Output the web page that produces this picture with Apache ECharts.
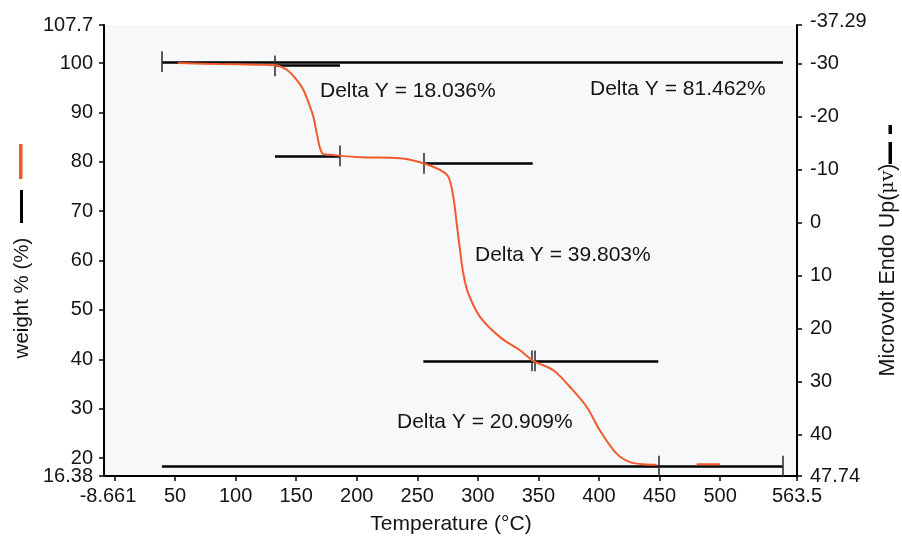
<!DOCTYPE html>
<html>
<head>
<meta charset="utf-8">
<title>TGA</title>
<script src="https://cdn.jsdelivr.net/npm/echarts@6/dist/echarts.min.js"></script>
<style>
	html,body{margin:0;padding:0;background:#fff;}
	#chart{width:902px;height:537px;}
</style>
</head>
<body>
<div id="chart"></div>
<script>
	//TGA curve
	var tgaTemp = [52.4, 87.1, 116.0, 132.5, 142.2, 150.4, 155.9, 161.4, 164.1, 167.0, 169.7, 172.4, 176.0, 180.7, 186.2, 202.7, 235.7, 255.0, 268.8, 275.6, 279.7, 282.5, 285.3, 288.0, 292.1, 301.8, 318.3, 334.8, 345.8, 362.3, 376.1, 389.9, 400.8, 414.6, 425.6, 439.4, 447.7, 465.0, 480.7, 500.0];
	var tgaWeight = [100.0, 99.8, 99.66, 99.55, 98.64, 96.6, 94.6, 91.2, 89.2, 85.8, 82.76, 81.55, 81.45, 81.4, 81.2, 80.93, 80.73, 79.72, 78.36, 77.0, 72.94, 67.55, 62.13, 57.4, 53.35, 48.6, 44.5, 41.85, 39.7, 37.8, 34.4, 30.34, 25.6, 20.9, 19.2, 18.72, 18.66, null, 18.76, 18.76];

	//Delta Y step lines
	var segFrom = [39.2, 132.5, 132.5, 255.0, 255.0, 39.2];
	var segTo = [551.9, 186.2, 186.2, 345.3, 449.0, 551.9];
	var segLevel = [100.2, 99.5, 81.2, 79.7, 39.7, 18.4];

	//vertical markers on the step lines
	var markTemp = [39.2, 132.5, 186.2, 255.0, 344.4, 347.1, 449.0, 551.9];
	var markLevel = [100.3, 99.4, 81.2, 79.7, 39.7, 39.7, 18.4, 18.4];

	var deltaText = ['Delta Y = 18.036%', 'Delta Y = 81.462%', 'Delta Y = 39.803%', 'Delta Y = 20.909%'];

	//tick labels
	var xLabels = [-8.661, 50, 100, 150, 200, 250, 300, 350, 400, 450, 500, 563.5];
	var xTicks = [0, 50, 100, 150, 200, 250, 300, 350, 400, 450, 500, 563.5];
	var yLabels = [20, 30, 40, 50, 60, 70, 80, 90, 100, 107.7];
	var yTicks = [16.38, 20, 30, 40, 50, 60, 70, 80, 90, 100, 107.7];
	var yMinLabel = [16.38];
	var y2Labels = [-37.29, -30, -20, -10, 0, 10, 20, 30, 40, 47.74];

	var font = 'Liberation Sans, Arial, sans-serif';
	var ink = '#141414';
	var orange = '#f25a2e';
	var markHalf = 2.1;

	var curve = [];
	for (var i = 0; i < tgaTemp.length; i++) {
		curve.push([tgaTemp[i], tgaWeight[i]]);
	}
	var segs = [];
	for (var i = 0; i < segFrom.length; i++) {
		segs.push({coords: [[segFrom[i], segLevel[i]], [segTo[i], segLevel[i]]]});
	}
	var marks = [];
	for (var i = 0; i < markTemp.length; i++) {
		marks.push({coords: [[markTemp[i], markLevel[i] - markHalf], [markTemp[i], markLevel[i] + markHalf]]});
	}

	//a few end labels are nudged in the original
	function axisText(v) {
		if (v === -37.29) return '{up|' + v + '}';
		if (v === -8.661) return '{rt|' + v + '}';
		return String(v);
	}
	var nudgeRich = {
		up: {fontSize: 20, fontFamily: font, color: ink, padding: [0, 0, 8, 0]},
		rt: {fontSize: 20, fontFamily: font, color: ink, padding: [0, 0, 0, 8]}
	};

	var myChart = echarts.init(document.getElementById('chart'));
	var option = {
		animation: false,
		backgroundColor: '#fff',
		textStyle: {fontFamily: font},
		grid: {
			left: 104, right: 105, top: 25, bottom: 61,
			show: true, backgroundColor: '#f7f8f9', borderWidth: 0
		},
		xAxis: {
			type: 'value',
			min: -8.661, max: 563.5,
			axisLine: {show: true, onZero: false, lineStyle: {color: '#000', width: 2}},
			axisTick: {show: true, length: 5, customValues: xTicks, lineStyle: {color: '#000', width: 1.5}},
			axisLabel: {customValues: xLabels, showMinLabel: true, showMaxLabel: true, margin: 10, color: ink, fontSize: 20, fontFamily: font, formatter: axisText, rich: nudgeRich},
			splitLine: {show: false}
		},
		yAxis: [
			{
				type: 'value',
				min: 16.38, max: 107.7,
				axisLine: {show: true, onZero: false, lineStyle: {color: '#000', width: 2}},
				axisTick: {show: true, length: 5, customValues: yTicks, lineStyle: {color: '#000', width: 1.5}},
				axisLabel: {customValues: yLabels, showMaxLabel: true, margin: 11, color: ink, fontSize: 20, fontFamily: font, formatter: axisText},
				splitLine: {show: false}
			},
			{
				type: 'value',
				position: 'right',
				inverse: true,
				min: -37.29, max: 47.74,
				axisLine: {show: true, onZero: false, lineStyle: {color: '#000', width: 2}},
				axisTick: {show: true, length: 5, customValues: y2Labels, lineStyle: {color: '#000', width: 1.5}},
				axisLabel: {customValues: y2Labels, showMinLabel: true, showMaxLabel: true, margin: 13, color: ink, fontSize: 20, fontFamily: font, formatter: axisText, rich: nudgeRich},
				splitLine: {show: false}
			},
			{
				//only the 16.38 label, so it is not dropped next to 20
				type: 'value',
				position: 'left',
				min: 16.38, max: 107.7,
				axisLine: {show: false},
				axisTick: {show: false},
				axisLabel: {customValues: yMinLabel, showMinLabel: true, margin: 11, color: ink, fontSize: 20, fontFamily: font, formatter: axisText},
				splitLine: {show: false}
			}
		],
		series: [
			{
				name: 'step',
				type: 'lines',
				coordinateSystem: 'cartesian2d',
				z: 2,
				silent: true,
				lineStyle: {color: '#000', width: 2.5, opacity: 1},
				data: segs
			},
			{
				name: 'mark',
				type: 'lines',
				coordinateSystem: 'cartesian2d',
				z: 3,
				silent: true,
				lineStyle: {color: '#333', width: 1.6, opacity: 1},
				data: marks
			},
			{
				name: 'weight %',
				type: 'line',
				z: 4,
				showSymbol: false,
				smooth: 0.35,
				connectNulls: false,
				lineStyle: {color: orange, width: 2},
				data: curve
			}
		],
		graphic: [
			{type: 'text', x: 320, y: 91, style: {text: deltaText[0], font: '21px ' + font, fill: ink, verticalAlign: 'middle'}},
			{type: 'text', x: 590, y: 89, style: {text: deltaText[1], font: '21px ' + font, fill: ink, verticalAlign: 'middle'}},
			{type: 'text', x: 475, y: 255, style: {text: deltaText[2], font: '21px ' + font, fill: ink, verticalAlign: 'middle'}},
			{type: 'text', x: 397, y: 422.5, style: {text: deltaText[3], font: '21px ' + font, fill: ink, verticalAlign: 'middle'}},
			//axis names
			{type: 'text', x: 451, y: 524, style: {text: 'Temperature (°C)', font: '21px ' + font, fill: ink, align: 'center', verticalAlign: 'middle'}},
			{type: 'text', x: 22, y: 298, rotation: Math.PI / 2, style: {text: 'weight % (%)', font: '20.5px ' + font, fill: ink, align: 'center', verticalAlign: 'middle'}},
			{
				type: 'text', x: 888, y: 270, rotation: Math.PI / 2,
				style: {
					text: '{a|Microvolt Endo Up(}{b|μv}{a|)}',
					fill: ink, align: 'center', verticalAlign: 'middle',
					rich: {
						a: {fontSize: 21.5, fontFamily: font, fill: ink},
						b: {fontSize: 19, fontFamily: 'DejaVu Serif, serif', fill: ink}
					}
				}
			},
			//legend bars
			{type: 'rect', shape: {x: 19, y: 144, width: 3.5, height: 35}, style: {fill: orange}},
			{type: 'rect', shape: {x: 20, y: 190, width: 3, height: 33}, style: {fill: '#000'}},
			{type: 'rect', shape: {x: 888.5, y: 125, width: 3.5, height: 9}, style: {fill: '#000'}},
			{type: 'rect', shape: {x: 888.5, y: 142, width: 3.5, height: 22}, style: {fill: '#000'}}
		]
	};
	myChart.setOption(option);
</script>
</body>
</html>
